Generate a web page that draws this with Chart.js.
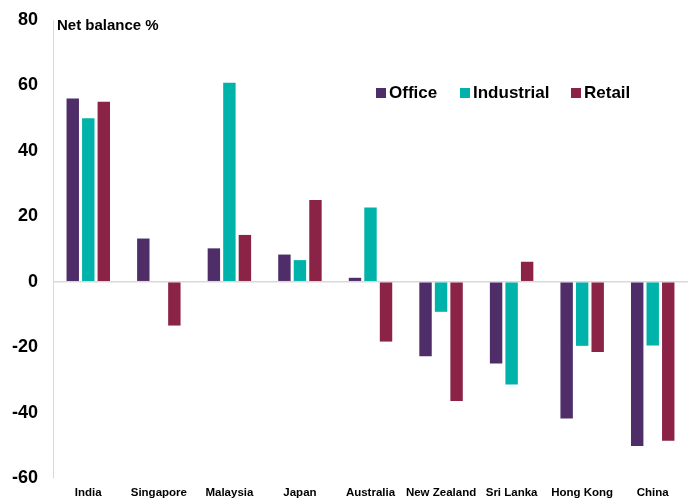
<!DOCTYPE html>
<html>
<head>
<meta charset="utf-8">
<script src="https://cdn.jsdelivr.net/npm/chart.js@4"></script>
<style>
  html, body { margin: 0; padding: 0; background: #fff; }
  #wrap { width: 688px; height: 502px; }
</style>
</head>
<body>
<div id="wrap"><canvas id="chart" width="688" height="502"></canvas></div>
<script>
const countries = ['India', 'Singapore', 'Malaysia', 'Japan', 'Australia', 'New Zealand', 'Sri Lanka', 'Hong Kong', 'China'];
const office = [56, 13.2, 10.2, 8.3, 1.2, -22.8, -25, -41.8, -50.2];
const industrial = [50, null, 60.8, 6.6, 22.7, -9.2, -31.4, -19.6, -19.5];
const retail = [55, -13.4, 14.3, 25, -18.3, -36.5, 6.1, -21.5, -48.6];
const yTicks = [80, 60, 40, 20, 0, -20, -40, -60];

const colors = { office: '#4e2d69', industrial: '#00b3aa', retail: '#8a2346' };

// axis title and legend drawn inside the plot area, like the original
const overlayPlugin = {
    id: 'overlay',
    afterDraw(chart) {
        const ctx = chart.ctx;
        ctx.save();
        ctx.fillStyle = '#000';
        ctx.font = 'bold 15px "Liberation Sans", Arial, sans-serif';
        ctx.textBaseline = 'middle';
        ctx.textAlign = 'left';
        ctx.fillText('Net balance %', 57, 26);

        ctx.font = 'bold 17px "Liberation Sans", Arial, sans-serif';
        const starts = [376, 460, 571];
        chart.data.datasets.forEach((ds, i) => {
            const x = starts[i];
            ctx.fillStyle = ds.backgroundColor;
            ctx.fillRect(x, 88, 10, 10);
            ctx.fillStyle = '#000';
            ctx.fillText(ds.label, x + 13, 93);
        });
        ctx.restore();
    }
};

new Chart(document.getElementById('chart').getContext('2d'), {
    type: 'bar',
    data: {
        labels: countries,
        datasets: [
            { label: 'Office', data: office, backgroundColor: colors.office },
            { label: 'Industrial', data: industrial, backgroundColor: colors.industrial },
            { label: 'Retail', data: retail, backgroundColor: colors.retail }
        ]
    },
    options: {
        responsive: false,
        animation: false,
        categoryPercentage: 0.66,
        barPercentage: 0.8,
        layout: { padding: { top: 20, right: 0, bottom: 0, left: 0 } },
        plugins: {
            legend: { display: false },
            title: { display: false },
            tooltip: { enabled: false }
        },
        scales: {
            x: {
                grid: { display: false, drawTicks: false },
                border: { display: false },
                ticks: {
                    color: '#000',
                    font: { family: '"Liberation Sans Narrow", "Liberation Sans", Arial', size: 11.5, weight: 'bold' },
                    padding: 8,
                    maxRotation: 0,
                    autoSkip: false
                },
                afterFit(scale) { scale.height = 24; }
            },
            y: {
                min: -60,
                max: 80,
                afterBuildTicks(scale) { scale.ticks = yTicks.map(v => ({ value: v })); },
                grid: {
                    drawTicks: false,
                    color: ctx => ctx.tick && ctx.tick.value === 0 ? '#d9d9d9' : 'rgba(0,0,0,0)',
                    lineWidth: 1.5
                },
                border: { display: true, color: '#d9d9d9' },
                ticks: {
                    color: '#000',
                    font: { family: '"Liberation Sans", Arial', size: 18, weight: 'bold' },
                    padding: 15
                },
                afterFit(scale) {
                    scale.width = 53;
                    scale.paddingTop = 0;
                    scale.paddingBottom = 0;
                }
            }
        }
    },
    plugins: [overlayPlugin]
});
</script>
</body>
</html>
